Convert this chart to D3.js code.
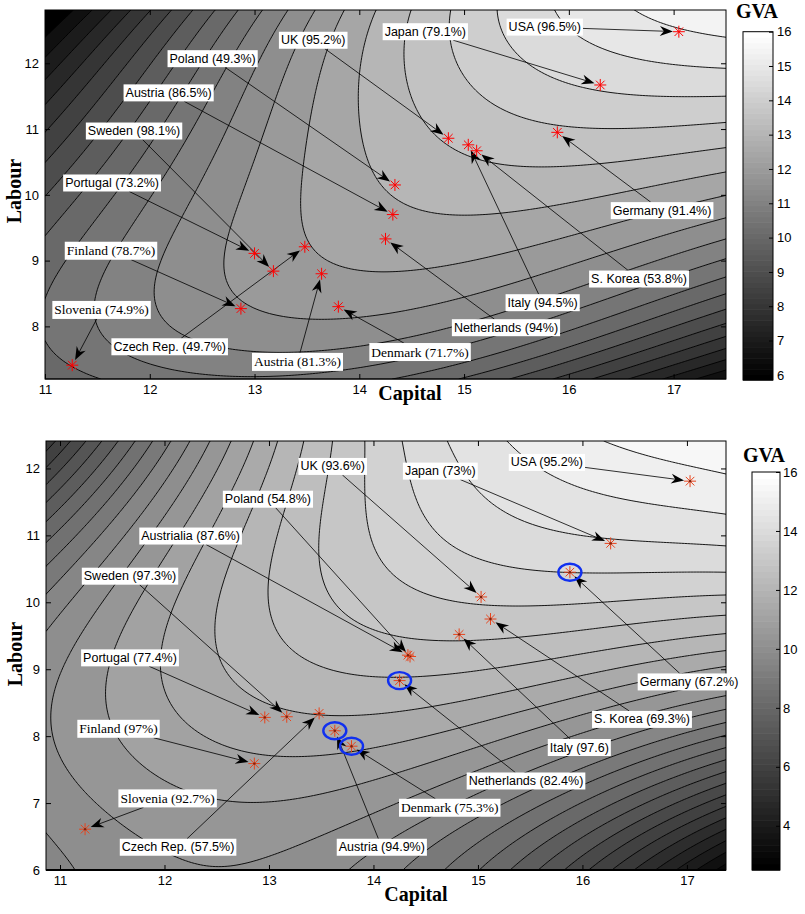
<!DOCTYPE html>
<html>
<head>
<meta charset="utf-8">
<script src="https://cdn.jsdelivr.net/npm/d3@7"></script>
<style>
  body { margin: 0; background: #fff; }
  svg text { font-family: "Liberation Sans", Arial, sans-serif; }
</style>
</head>
<body>
<script>
// ---------- data: top panel ----------
var topNames = ["USA (96.5%)", "Japan (79.1%)", "UK (95.2%)", "Poland (49.3%)", "Austria (86.5%)",
  "Sweden (98.1%)", "Portugal (73.2%)", "Finland (78.7%)", "Slovenia (74.9%)", "Czech Rep. (49.7%)",
  "Austria (81.3%)", "Denmark (71.7%)", "Netherlands (94%)", "Italy (94.5%)", "S. Korea (53.8%)", "Germany (91.4%)"];
var topCapital = [17.05, 16.30, 14.85, 14.34, 14.32, 13.18, 13.00, 12.87, 11.26, 13.48, 13.64, 13.80, 14.25, 15.04, 15.12, 15.89];
var topLabour  = [12.48, 11.67, 10.86, 10.15, 9.70, 8.84, 9.11, 8.27, 7.41, 9.21, 8.80, 8.30, 9.33, 10.76, 10.67, 10.95];
var topLabelK  = [15.77, 14.63, 13.56, 12.60, 12.18, 11.85, 11.64, 11.63, 11.54, 12.19, 13.41, 14.58, 15.40, 15.75, 16.67, 16.89];
var topLabelL  = [12.55, 12.48, 12.35, 12.07, 11.55, 10.97, 10.18, 9.15, 8.25, 7.69, 7.46, 7.61, 7.98, 8.36, 8.72, 9.76];
var topSerif   = [0, 0, 0, 0, 0, 0, 0, 1, 1, 0, 1, 1, 0, 0, 0, 0];

// GVA contour levels: [level, [[capital, labour], ...]]
var topTrace = [
  [15.5, [[16.56,12.81],[16.8,12.62],[17.05,12.48],[17.5,12.31]]],
  [15,   [[16.01,12.81],[16.3,12.1],[16.62,11.9],[17.5,11.87]]],
  [14.5, [[15.49,12.81],[15.54,12.2],[15.66,11.7],[16.05,11.49],[16.62,11.35],[17.5,11.46]]],
  [14,   [[15.06,12.81],[15.03,12.1],[15.09,11.7],[15.35,11.19],[15.89,10.94],[16.62,10.89],[17.5,11.01]]],
  [13.5, [[14.71,12.81],[14.58,11.44],[14.77,10.83],[15.12,10.58],[15.66,10.38],[16.62,10.45],[17.5,10.76]]],
  [13,   [[14.1,12.81],[14.1,11.0],[14.17,10.15],[14.5,9.85],[15.5,9.85],[17.5,10.48]]],
  [12.5, [[13.7,12.81],[13.18,9.9],[13.31,9.26],[13.63,9.01],[14.39,8.84],[15.5,9.2],[17.5,10.2]]],
  [12,   [[13.45,12.81],[12.64,9.9],[12.66,9.39],[12.86,8.81],[13.18,8.5],[13.59,8.3],[14.39,8.3],[15.5,8.8],[17.5,9.97]]],
  [11.5, [[13.25,12.81],[12.15,8.91],[12.23,8.46],[12.48,8.0],[12.77,7.75],[13.75,7.7],[15.5,8.45],[17.5,9.5]]],
  [11,   [[13.05,12.81],[11.65,8.24],[11.72,7.75],[12.0,7.33],[12.26,7.2],[13.19,7.2],[13.87,7.23],[14.12,7.33],[17.5,9.05]]],
  [10.5, [[12.85,12.81],[11.08,9.57],[11.14,9.06],[11.13,7.89],[11.21,7.64],[11.33,7.53],[11.4,7.2],[14.33,7.2],[15.11,7.44],[17.5,8.63]]],
  [10,   [[12.65,12.81],[11.0,9.67],[15.0,7.2],[17.5,8.32]]],
  [9.5,  [[12.45,12.81],[11.0,10.05],[15.43,7.2],[17.5,8.13]]],
  [9,    [[12.25,12.81],[11.0,10.43],[15.81,7.2],[17.5,7.96]]],
  [8.5,  [[12.05,12.81],[11.0,10.81],[16.2,7.2],[17.5,7.78]]],
  [8,    [[11.85,12.81],[11.0,11.2],[16.57,7.2],[17.5,7.61]]],
  [7.5,  [[11.65,12.81],[11.0,11.58],[16.91,7.2],[17.5,7.46]]],
  [7,    [[11.45,12.81],[11.0,11.97],[17.16,7.2],[17.5,7.35]]],
  [6.5,  [[11.25,12.81],[11.0,12.35],[17.42,7.2],[17.5,7.24]]],
  [6,    [[11.05,12.81],[11.0,12.73]]],
  [5.9,  [[11.0,12.81]]], [15.8, [[17.5,12.81]]], [6.2, [[17.5,7.2]]], [10.2, [[11.0,7.2]]]
];
var topLevels = d3.range(6, 16, 0.5);
var topColorTicks = [6, 7, 8, 9, 10, 11, 12, 13, 14, 15, 16];

// ---------- data: bottom panel ----------
var botNames = ["USA (95.2%)", "Japan (73%)", "UK (93.6%)", "Poland (54.8%)", "Austrialia (87.6%)",
  "Sweden (97.3%)", "Portugal (77.4%)", "Finland (97%)", "Slovenia (92.7%)", "Czech Rep. (57.5%)",
  "Austria (94.9%)", "Denmark (75.3%)", "Netherlands (82.4%)", "Italy (97.6)", "S. Korea (69.3%)", "Germany (67.2%)"];
var botCapital = [17.03, 16.27, 15.03, 14.35, 14.33, 13.17, 12.96, 12.86, 11.24, 13.48, 13.63, 13.79, 14.25, 14.82, 15.12, 15.88];
var botLabour  = [11.81, 10.88, 10.08, 9.19, 9.21, 8.29, 8.28, 7.59, 6.61, 8.34, 8.08, 7.85, 8.83, 9.52, 9.75, 10.45];
var botLabelK  = [15.66, 14.64, 13.61, 12.99, 12.25, 11.67, 11.67, 11.56, 12.03, 12.13, 14.08, 14.73, 15.46, 15.97, 16.57, 17.02];
var botLabelL  = [12.09, 11.96, 12.03, 11.54, 10.99, 10.39, 9.17, 8.11, 7.07, 6.34, 6.34, 6.93, 7.33, 7.83, 8.25, 8.81];
var botSerif   = [0, 0, 0, 0, 0, 0, 0, 1, 1, 0, 0, 1, 0, 0, 0, 0];
var botCircled = [0, 0, 0, 0, 0, 0, 0, 0, 0, 0, 1, 1, 1, 0, 0, 1];

var botTrace = [
  [15.5, [[16.17,12.41],[16.2,12.1],[16.6,11.9],[17.03,11.83],[17.374,11.85]]],
  [15,   [[15.63,12.41],[15.66,11.83],[16.17,11.43],[16.68,11.37],[17.374,11.48]]],
  [14.5, [[15.04,12.41],[15.04,11.58],[15.21,11.23],[15.63,10.98],[15.98,10.87],[16.62,10.88],[17.374,11.05]]],
  [14,   [[14.59,12.41],[14.58,11.48],[14.74,10.83],[15.06,10.56],[15.79,10.41],[16.49,10.43],[17.374,10.68]]],
  [13.5, [[14.13,12.41],[14.14,11.23],[14.26,10.74],[14.38,10.23],[14.64,10.01],[15.21,9.86],[16.04,9.93],[17.374,10.13]]],
  [13,   [[13.65,12.41],[13.62,11.23],[13.63,10.23],[13.78,9.84],[14.26,9.44],[14.58,9.34],[15.21,9.35],[17.374,9.69]]],
  [12.5, [[13.14,12.41],[13.16,10.38],[13.14,9.84],[13.2,9.49],[13.46,9.14],[14.0,9.0],[15.0,9.05],[17.374,9.44]]],
  [12,   [[12.82,12.41],[12.68,10.5],[12.69,8.99],[12.72,8.79],[12.85,8.54],[13.11,8.34],[13.49,8.27],[14.26,8.29],[15.5,8.6],[17.374,9.24]]],
  [11.5, [[12.66,12.41],[12.2,10.5],[12.15,8.99],[12.17,8.59],[12.34,8.25],[12.66,7.9],[13.08,7.77],[13.62,7.72],[14.26,7.82],[15.5,8.3],[17.374,9.04]]],
  [11,   [[12.53,12.41],[11.67,7.95],[11.83,7.45],[12.28,7.22],[13.62,7.15],[14.26,7.35],[17.374,8.84]]],
  [10.5, [[12.37,12.41],[11.1,8.14],[11.1,7.69],[11.19,7.1],[11.38,6.8],[11.54,6.65],[12.02,6.4],[14.0,6.6],[17.374,8.65]]],
  [10,   [[12.22,12.41],[10.866,10.1],[10.87,6.2],[11.26,6.0],[14.2,6.0],[17.374,8.44]]],
  [9.5,  [[12.08,12.41],[10.866,10.35],[14.45,6.0],[17.374,8.24]]],
  [9,    [[11.93,12.41],[10.866,10.6],[14.7,6.0],[17.374,8.05]]],
  [8.5,  [[11.77,12.41],[10.866,10.88],[14.95,6.0],[17.374,7.84]]],
  [8,    [[11.6,12.41],[10.866,11.16],[15.2,6.0],[17.374,7.68]]],
  [7.5,  [[11.45,12.41],[10.866,11.43],[15.45,6.0],[17.374,7.5]]],
  [7,    [[11.29,12.41],[10.866,11.7],[15.7,6.0],[17.374,7.3]]],
  [6.5,  [[11.12,12.41],[10.866,11.98],[15.95,6.0],[17.374,7.12]]],
  [6,    [[10.98,12.41],[16.2,6.0],[17.374,6.95]]],
  [5.5,  [[16.45,6.0],[17.374,6.78]]],
  [5,    [[16.7,6.0],[17.374,6.6]]],
  [4.5,  [[16.95,6.0],[17.374,6.43]]],
  [4,    [[17.2,6.0],[17.374,6.26]]],
  [5.8,  [[10.866,12.41]]], [3.4, [[17.374,6.0]]], [15.9, [[17.374,12.41]]], [9.7, [[10.866,6.0]]]
];
var botLevels = d3.range(3, 16, 0.5);
var botColorTicks = [4, 6, 8, 10, 12, 14, 16];

var xTicks = [11, 12, 13, 14, 15, 16, 17];

// ---------- layout ----------
var panels = [
  { plot: [45, 726, 10, 379], kDom: [11, 17.5], lDom: [7.2, 12.81], yTicks: [8, 9, 10, 11, 12],
    cbar: [743, 773, 31.7, 380], cDom: [5.85, 16], cTicks: topColorTicks, cPad: 4,
    levels: topLevels, trace: topTrace, star: "#ff0000",
    names: topNames, ptK: topCapital, ptL: topLabour, labK: topLabelK, labL: topLabelL, serif: topSerif, circled: null,
    capital: [410, 400], labour: [21, 191], gva: [757, 18], bottomStroke: 1 },
  { plot: [46, 726, 441, 870], kDom: [10.866, 17.374], lDom: [6, 12.41], yTicks: [6, 7, 8, 9, 10, 11, 12],
    cbar: [752, 780, 472, 870], cDom: [2.5, 16], cTicks: botColorTicks, cPad: 3,
    levels: botLevels, trace: botTrace, star: "#e8441c",
    names: botNames, ptK: botCapital, ptL: botLabour, labK: botLabelK, labL: botLabelL, serif: botSerif, circled: botCircled,
    capital: [416, 901], labour: [22, 654], gva: [764, 462], bottomStroke: 2 }
];

var svg = d3.select("body").append("svg").attr("width", 805).attr("height", 914);

function grayOf(t, dom) {
  var f = (t - dom[0]) / (dom[1] - dom[0]);
  f = Math.max(0, Math.min(1, f));
  var idx = Math.min(63, Math.floor(f * 64));
  var g = Math.round(idx / 63 * 255);
  return "rgb(" + g + "," + g + "," + g + ")";
}

function solve(M, b) {
  var N = b.length;
  for (var c = 0; c < N; c++) {
    var p = c;
    for (var r = c + 1; r < N; r++) if (Math.abs(M[r][c]) > Math.abs(M[p][c])) p = r;
    var tmp = M[c]; M[c] = M[p]; M[p] = tmp; var tb = b[c]; b[c] = b[p]; b[p] = tb;
    for (r = c + 1; r < N; r++) {
      var f = M[r][c] / M[c][c];
      if (f === 0) continue;
      for (var k = c; k < N; k++) M[r][k] -= f * M[c][k];
      b[r] -= f * b[c];
    }
  }
  var w = new Float64Array(N);
  for (var i = N - 1; i >= 0; i--) {
    var s = b[i];
    for (k = i + 1; k < N; k++) s -= M[i][k] * w[k];
    w[i] = s / M[i][i];
  }
  return w;
}

// least-squares polynomial surface through the traced contour points (u, v in -1..1)
function fitSurface(pts, deg, ridge) {
  var powers = [];
  for (var a = 0; a <= deg; a++) for (var b = 0; a + b <= deg; b++) powers.push([a, b]);
  var m = powers.length;
  function row(u, v) { return powers.map(function(p) { return Math.pow(u, p[0]) * Math.pow(v, p[1]); }); }
  var M = [], rhs = [];
  for (var i = 0; i < m; i++) { M.push(new Float64Array(m)); rhs.push(0); }
  pts.forEach(function(q) {
    var r = row(q[0], q[1]);
    for (var i = 0; i < m; i++) {
      rhs[i] += r[i] * q[2];
      for (var j = 0; j < m; j++) M[i][j] += r[i] * r[j];
    }
  });
  for (i = 0; i < m; i++) M[i][i] += ridge;
  var w = solve(M, rhs);
  return function(u, v) {
    var r = row(u, v), s = 0;
    for (var i = 0; i < m; i++) s += w[i] * r[i];
    return s;
  };
}

function drawPanel(P, idx) {
  var x0 = P.plot[0], x1 = P.plot[1], y0 = P.plot[2], y1 = P.plot[3];
  var x = d3.scaleLinear().domain(P.kDom).range([x0, x1]);
  var y = d3.scaleLinear().domain(P.lDom).range([y1, y0]);
  var nu = d3.scaleLinear().domain(P.kDom).range([-1, 1]);
  var nv = d3.scaleLinear().domain(P.lDom).range([-1, 1]);
  var g = svg.append("g");

  var pts = [];
  P.trace.forEach(function(t) {
    t[1].forEach(function(q) { pts.push([nu(q[0]), nv(q[1]), t[0]]); });
  });
  var surf = fitSurface(pts, 4, 1e-4);
  var nx = 230, ny = Math.round(230 * (y1 - y0) / (x1 - x0));
  var vals = new Float64Array(nx * ny);
  for (var j = 0; j < ny; j++) {
    for (var i = 0; i < nx; i++) {
      vals[j * nx + i] = surf(-1 + 2 * i / (nx - 1), 1 - 2 * j / (ny - 1));
    }
  }
  var kStep = (P.kDom[1] - P.kDom[0]) / (nx - 1), lStep = (P.lDom[1] - P.lDom[0]) / (ny - 1);
  var path = d3.geoPath(d3.geoTransform({
    point: function(gx, gy) {
      this.stream.point(x(P.kDom[0] + (gx - 0.5) * kStep), y(P.lDom[1] - (gy - 0.5) * lStep));
    }
  }));
  var clipId = "clip" + idx;
  svg.append("clipPath").attr("id", clipId).append("rect")
    .attr("x", x0).attr("y", y0).attr("width", x1 - x0).attr("height", y1 - y0);
  var cg = g.append("g").attr("clip-path", "url(#" + clipId + ")");
  cg.append("rect").attr("x", x0).attr("y", y0).attr("width", x1 - x0).attr("height", y1 - y0)
    .attr("fill", grayOf(P.cDom[0], P.cDom));
  var contours = d3.contours().size([nx, ny]).thresholds(P.levels)(vals);
  cg.selectAll("path.band").data(contours).enter().append("path")
    .attr("d", path).attr("fill", function(d) { return grayOf(d.value, P.cDom); })
    .attr("stroke", "#000").attr("stroke-width", 0.9).attr("stroke-linejoin", "round");

  function styleAxis(sel) {
    sel.select(".domain").remove();
    sel.selectAll("text").attr("font-size", 13).attr("fill", "#000");
    sel.selectAll("line").attr("stroke", "#000");
  }
  g.append("g").attr("transform", "translate(0," + y1 + ")")
    .call(d3.axisBottom(x).tickValues(xTicks).tickSizeInner(-5).tickSizeOuter(0).tickPadding(6).tickFormat(d3.format("d")))
    .call(styleAxis);
  g.append("g").attr("transform", "translate(0," + y0 + ")")
    .call(d3.axisTop(x).tickValues(xTicks).tickSize(-5).tickFormat("")).call(styleAxis);
  g.append("g").attr("transform", "translate(" + x0 + ",0)")
    .call(d3.axisLeft(y).tickValues(P.yTicks).tickSizeInner(-5).tickSizeOuter(0).tickPadding(6).tickFormat(d3.format("d")))
    .call(styleAxis);
  g.append("g").attr("transform", "translate(" + x1 + ",0)")
    .call(d3.axisRight(y).tickValues(P.yTicks).tickSize(-5).tickFormat("")).call(styleAxis);
  g.append("rect").attr("x", x0).attr("y", y0).attr("width", x1 - x0).attr("height", y1 - y0)
    .attr("fill", "none").attr("stroke", "#000").attr("stroke-width", 1);
  g.append("line").attr("x1", x0).attr("x2", x1).attr("y1", y1).attr("y2", y1)
    .attr("stroke", "#000").attr("stroke-width", P.bottomStroke);

  // annotation labels with arrows
  var ann = g.append("g");
  var labels = [];
  P.names.forEach(function(name, i) {
    var lg = ann.append("g");
    var t = lg.append("text").text(name)
      .attr("x", x(P.labK[i])).attr("y", y(P.labL[i]))
      .attr("text-anchor", "middle").attr("dominant-baseline", "central")
      .attr("font-size", P.serif[i] ? 13.5 : 12.5)
      .style("font-family", P.serif[i] ? "'Liberation Serif', 'Times New Roman', serif" : "'Liberation Sans', Arial, sans-serif");
    var bb = t.node().getBBox();
    var box = { x: bb.x - 2, y: bb.y - 1.5, w: bb.width + 4, h: bb.height + 3 };
    lg.insert("rect", "text").attr("x", box.x).attr("y", box.y).attr("width", box.w).attr("height", box.h).attr("fill", "#fff");
    labels.push(box);
  });
  var arrows = ann.insert("g", ":first-child");
  P.names.forEach(function(name, i) {
    var box = labels[i];
    var cx = box.x + box.w / 2, cy = box.y + box.h / 2;
    var tx = x(P.ptK[i]), ty = y(P.ptL[i]);
    var dx = tx - cx, dy = ty - cy, len = Math.sqrt(dx * dx + dy * dy);
    var ux = dx / len, uy = dy / len;
    var sx = Math.abs(dx) > 1e-6 ? (box.w / 2) / Math.abs(dx) : 1e9;
    var sy = Math.abs(dy) > 1e-6 ? (box.h / 2) / Math.abs(dy) : 1e9;
    var s = Math.min(sx, sy);
    var ax = cx + dx * s, ay = cy + dy * s;
    var gap = 6;
    var hx = tx - ux * gap, hy = ty - uy * gap;
    arrows.append("line").attr("x1", ax).attr("y1", ay).attr("x2", hx - ux * 8).attr("y2", hy - uy * 8)
      .attr("stroke", "#000").attr("stroke-width", 0.8);
    var nxp = -uy, nyp = ux;
    var head = [[hx, hy], [hx - 13 * ux + 5 * nxp, hy - 13 * uy + 5 * nyp], [hx - 9 * ux, hy - 9 * uy],
      [hx - 13 * ux - 5 * nxp, hy - 13 * uy - 5 * nyp]];
    arrows.append("path").attr("d", "M" + head.map(function(p) { return p[0].toFixed(1) + "," + p[1].toFixed(1); }).join("L") + "Z")
      .attr("fill", "#000");
  });

  // stars
  var starPath = "M-6,0H6M0,-6V6M-4.3,-4.3L4.3,4.3M-4.3,4.3L4.3,-4.3";
  P.ptK.forEach(function(k, i) {
    g.append("path").attr("d", starPath)
      .attr("transform", "translate(" + x(k) + "," + y(P.ptL[i]) + ")")
      .attr("stroke", P.star).attr("stroke-width", 1).attr("fill", "none");
    if (idx === 1) {
      g.append("circle").attr("cx", x(k)).attr("cy", y(P.ptL[i])).attr("r", 1.2).attr("fill", "#7a2410");
    }
    if (P.circled && P.circled[i]) {
      g.append("ellipse").attr("cx", x(k)).attr("cy", y(P.ptL[i])).attr("rx", 11.5).attr("ry", 8.5)
        .attr("fill", "none").attr("stroke", "#1030f0").attr("stroke-width", 2.4);
    }
  });

  // titles
  g.append("text").text("Capital").attr("x", P.capital[0]).attr("y", P.capital[1])
    .attr("text-anchor", "middle").attr("font-size", 20).attr("font-weight", "bold")
    .style("font-family", "'Liberation Serif', 'Times New Roman', serif");
  g.append("text").text("Labour").attr("transform", "translate(" + P.labour[0] + "," + P.labour[1] + ") rotate(-90)")
    .attr("text-anchor", "middle").attr("font-size", 20).attr("font-weight", "bold")
    .style("font-family", "'Liberation Serif', 'Times New Roman', serif");
  g.append("text").text("GVA").attr("x", P.gva[0]).attr("y", P.gva[1])
    .attr("text-anchor", "middle").attr("font-size", 20).attr("font-weight", "bold")
    .style("font-family", "'Liberation Serif', 'Times New Roman', serif");

  // colorbar
  var cb = P.cbar;
  var c = d3.scaleLinear().domain(P.cDom).range([cb[3], cb[2]]);
  var steps = d3.range(64);
  g.append("g").selectAll("rect").data(steps).enter().append("rect")
    .attr("x", cb[0]).attr("width", cb[1] - cb[0])
    .attr("y", function(d) { return c(P.cDom[0] + (d + 1) / 64 * (P.cDom[1] - P.cDom[0])); })
    .attr("height", function(d) { return (cb[3] - cb[2]) / 64 + 0.6; })
    .attr("fill", function(d) { var gg = Math.round(d / 63 * 255); return "rgb(" + gg + "," + gg + "," + gg + ")"; });
  g.append("rect").attr("x", cb[0]).attr("y", cb[2]).attr("width", cb[1] - cb[0]).attr("height", cb[3] - cb[2])
    .attr("fill", "none").attr("stroke", "#000");
  g.append("g").attr("transform", "translate(" + cb[1] + ",0)")
    .call(d3.axisRight(c).tickValues(P.cTicks).tickSizeInner(-4).tickSizeOuter(0).tickPadding(P.cPad).tickFormat(d3.format("d")))
    .call(styleAxis);
}

panels.forEach(drawPanel);
</script>
</body>
</html>
